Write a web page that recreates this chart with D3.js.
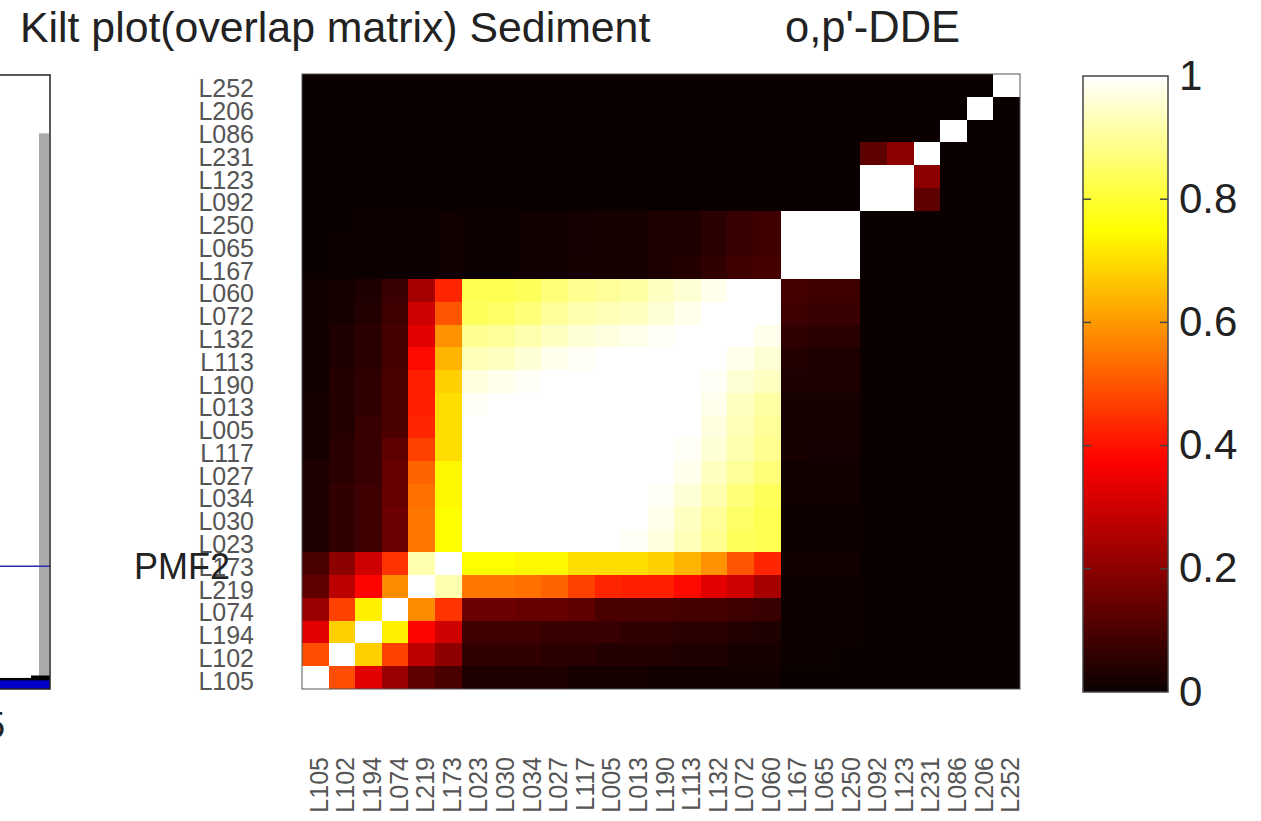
<!DOCTYPE html>
<html><head><meta charset="utf-8"><script src="https://cdn.jsdelivr.net/npm/d3@7"></script>
<style>html,body{margin:0;padding:0;background:#fff}svg{display:block}text{font-family:"Liberation Sans",Arial,sans-serif}</style></head>
<body><svg id="c" width="1261" height="821"></svg>
<script>
const labels=["L105","L102","L194","L074","L219","L173","L023","L030","L034","L027","L117","L005","L013","L190","L113","L132","L072","L060","L167","L065","L250","L092","L123","L231","L086","L206","L252"];
// Upper triangle of the symmetric overlap matrix: rowN holds columns N..26
const row0=[1,.49,.33,.22,.13,.1,.03,.03,.03,.03,.02,.02,.02,.01,.01,.01,.01,.01,0,0,0,0,0,0,0,0,0];
const row1=[1,.68,.47,.27,.2,.06,.06,.06,.05,.05,.04,.04,.04,.03,.03,.02,.02,.005,.005,0,0,0,0,0,0,0];
const row2=[1,.73,.38,.3,.08,.08,.08,.07,.07,.07,.06,.06,.05,.05,.04,.03,.005,.005,.005,0,0,0,0,0,0];
const row3=[1,.58,.45,.15,.15,.14,.14,.13,.1,.1,.1,.09,.09,.08,.07,.005,.005,.005,0,0,0,0,0,0];
const row4=[1,.92,.55,.55,.54,.52,.47,.43,.42,.42,.39,.33,.3,.24,.005,.005,.005,0,0,0,0,0,0];
const row5=[1,.75,.75,.74,.74,.7,.7,.7,.68,.64,.59,.5,.43,.01,.01,.01,0,0,0,0,0,0];
const row6=[1,1,1,1,1,1,.99,.97,.93,.89,.84,.83,.005,.005,.005,0,0,0,0,0,0];
const row7=[1,1,1,1,1,1,.98,.94,.9,.85,.83,.005,.005,.005,0,0,0,0,0,0];
const row8=[1,1,1,1,1,.99,.96,.92,.87,.84,.01,.01,.01,0,0,0,0,0,0];
const row9=[1,1,1,1,1,.98,.94,.9,.87,.01,.01,.01,0,0,0,0,0,0];
const row10=[1,1,1,1,.99,.96,.92,.89,.02,.015,.015,0,0,0,0,0,0];
const row11=[1,1,1,1,.97,.93,.9,.02,.02,.02,0,0,0,0,0,0];
const row12=[1,1,1,.98,.94,.91,.02,.02,.02,0,0,0,0,0,0];
const row13=[1,1,.99,.96,.94,.03,.03,.03,0,0,0,0,0,0];
const row14=[1,1,.98,.96,.04,.03,.03,0,0,0,0,0,0];
const row15=[1,1,.98,.06,.05,.05,0,0,0,0,0,0];
const row16=[1,1,.08,.07,.07,0,0,0,0,0,0];
const row17=[1,.09,.08,.08,0,0,0,0,0,0];
const row18=[1,1,1,0,0,0,0,0,0];
const row19=[1,1,0,0,0,0,0,0];
const row20=[1,0,0,0,0,0,0];
const row21=[1,1,.13,0,0,0];
const row22=[1,.2,0,0,0];
const row23=[1,0,0,0];
const row24=[1,0,0];
const row25=[1,0];
const row26=[1];
const triangle=[row0,row1,row2,row3,row4,row5,row6,row7,row8,row9,row10,row11,row12,row13,row14,row15,row16,row17,row18,row19,row20,row21,row22,row23,row24,row25,row26];
const colorTicks=[0,.2,.4,.6,.8,1];
const colorTickLabels=["0","0.2","0.4","0.6","0.8","1"];
const titleLeft="Kilt plot(overlap matrix) Sediment";
const titleRight="o,p'-DDE";
const sidePanelLabel="PMF2";
const sideBarTop=.905, sideLine=.2, sideFloorBlue=.014, sideFloorBlack=.018, sideFloorBlackBar=.022;
const hot=v=>{const c=t=>Math.round(255*Math.max(0,Math.min(1,t)));
  return `rgb(${c(.04+v/.375*.96)},${c((v-.375)/.375)},${c((v-.75)/.25)})`;};
const svg=d3.select("#c");
const x=d3.scaleBand().domain(d3.range(labels.length)).range([302,1020]);
const y=d3.scaleBand().domain(d3.range(labels.length)).range([689,74]);
const cells=[];
triangle.forEach((r,i)=>r.forEach((v,k)=>{const j=i+k;cells.push({i,j,v});if(i!==j)cells.push({i:j,j:i,v});}));
svg.append("g").attr("shape-rendering","crispEdges").selectAll("rect").data(cells).join("rect")
 .attr("x",d=>x(d.j)).attr("y",d=>y(d.i)).attr("width",x.bandwidth()).attr("height",y.bandwidth())
 .attr("fill",d=>hot(d.v));
svg.append("rect").attr("x",302).attr("y",74).attr("width",718).attr("height",615).attr("fill","none").attr("stroke","#555").attr("stroke-width",1);
const ya=d3.axisLeft(y).tickSize(0).tickFormat(i=>labels[i]);
const gy=svg.append("g").attr("transform","translate(302,3)").call(ya);
gy.select(".domain").remove();
gy.selectAll("text").attr("x",-48).style("font-size","25px").style("fill","#555").attr("dy","0.36em");
const xa=d3.axisBottom(x).tickSize(0).tickFormat(i=>labels[i]);
const gx=svg.append("g").attr("transform","translate(3.5,689)").call(xa);
gx.select(".domain").remove();
gx.selectAll("text").attr("y",null).attr("dy",null)
 .attr("text-anchor","end").style("font-size","25px").style("fill","#555")
 .attr("transform","translate(0,68) rotate(-90) translate(0,9)");
// colorbar
const cb=d3.scaleLinear().domain([0,1]).range([692,76]);
const defs=svg.append("defs");
const g=defs.append("linearGradient").attr("id","hotg").attr("x1",0).attr("x2",0).attr("y1",1).attr("y2",0);
d3.range(0,1.0001,.025).forEach(t=>g.append("stop").attr("offset",t).attr("stop-color",hot(t)));
svg.append("rect").attr("x",1083).attr("y",cb(1)).attr("width",85).attr("height",cb(0)-cb(1)).attr("fill","url(#hotg)").attr("stroke","#444").attr("stroke-width",1.5);
const cbAxis=d3.axisRight(cb).tickValues(colorTicks).tickSize(0).tickFormat((d,i)=>colorTickLabels[i]);
const gc=svg.append("g").attr("transform","translate(1168,-2)").call(cbAxis);
gc.select(".domain").remove();
gc.selectAll("text").attr("x",11).style("font-size","42px").style("fill","#222").attr("dy","0.36em");
colorTicks.filter(t=>t>0&&t<1).forEach(t=>{
 svg.append("line").attr("x1",1083).attr("x2",1091).attr("y1",cb(t)).attr("y2",cb(t)).attr("stroke","#444").attr("stroke-width",1.5);
 svg.append("line").attr("x1",1160).attr("x2",1168).attr("y1",cb(t)).attr("y2",cb(t)).attr("stroke","#444").attr("stroke-width",1.5);
});
// titles
svg.append("text").attr("x",20).attr("y",42).text(titleLeft).style("font-size","42.8px").style("fill","#222");
svg.append("text").attr("x",785).attr("y",42).text(titleRight).style("font-size","43.5px").style("fill","#222");
// cropped side panel
const sy=d3.scaleLinear().domain([0,1]).range([689,75]);
svg.append("rect").attr("x",39).attr("y",sy(sideBarTop)).attr("width",10).attr("height",sy(0)-sy(sideBarTop)).attr("fill","#aaa");
svg.append("rect").attr("x",31).attr("y",sy(sideFloorBlackBar)).attr("width",19).attr("height",sy(0)-sy(sideFloorBlackBar)).attr("fill","#000");
svg.append("rect").attr("x",-5).attr("y",sy(sideFloorBlack)).attr("width",55).attr("height",sy(0)-sy(sideFloorBlack)).attr("fill","#000");
svg.append("rect").attr("x",-5).attr("y",sy(sideFloorBlue)).attr("width",55).attr("height",sy(0)-sy(sideFloorBlue)).attr("fill","#0000c8");
svg.append("line").attr("x1",0).attr("x2",50).attr("y1",sy(sideLine)).attr("y2",sy(sideLine)).attr("stroke","#2a2abc").attr("stroke-width",1.5);
svg.append("path").attr("d",`M-2,${sy(1)}H50V${sy(0)}H-2`).attr("fill","none").attr("stroke","#222").attr("stroke-width",1.5);
svg.append("text").attr("x",5).attr("y",738).attr("text-anchor","end").text("5").style("font-size","36px").style("fill","#222");
svg.append("text").attr("x",134).attr("y",579).text(sidePanelLabel).style("font-size","36px").style("fill","#222");
</script></body></html>
